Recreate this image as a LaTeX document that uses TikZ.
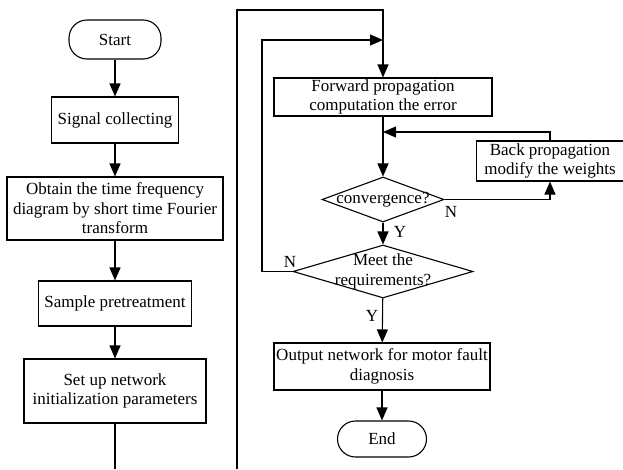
\documentclass[tikz,border=0pt]{standalone}
\usepackage{fontspec}
\setmainfont{Liberation Serif}
\usetikzlibrary{arrows.meta,shapes.geometric}

\tikzset{
  every node/.style={font=\fontsize{17}{19.5}\selectfont},
  procbox/.style={draw, rectangle, align=center, inner sep=0pt},
  termbox/.style={draw, rectangle, rounded corners=18pt, inner sep=0pt},
  decision/.style={draw, diamond, inner sep=0pt},
  flow/.style={-{Triangle[length=13pt,width=11pt]}}
}

\begin{document}
\begin{tikzpicture}[x=1pt, y=-1pt, line width=1.1pt]
    \useasboundingbox (0,0) rectangle (623,469);

    % Left column
    \node[termbox, minimum width=92, minimum height=39] (start) at (115,39.5) {Start};
    \node[procbox, minimum width=127, minimum height=46] (signal) at (115,120) {Signal collecting};
    \node[procbox, minimum width=216, minimum height=63] (obtain) at (115,208.5)
        {Obtain the time frequency\\diagram by short time Fourier\\transform};
    \node[procbox, minimum width=153, minimum height=45] (sample) at (115,303.5) {Sample pretreatment};
    \node[procbox, minimum width=182, minimum height=64] (setup) at (115,391)
        {Set up network\\initialization parameters};
    \coordinate (leftcut) at (115,469);

    \draw[flow] (start) -- (signal);
    \draw[flow] (signal) -- (obtain);
    \draw[flow] (obtain) -- (sample);
    \draw[flow] (sample) -- (setup);
    \draw (setup) -- (leftcut);

    % Right column
    \coordinate (rightcut) at (237,469);
    \coordinate (topbend) at (237,10);
    \node[procbox, minimum width=218, minimum height=38] (forward) at (383,97)
        {Forward propagation\\computation the error};
    \node[procbox, minimum width=147, minimum height=40] (back) at (550,161)
        {Back propagation\\modify the weights};
    \node[decision, minimum width=122, minimum height=45,
          label={center:convergence?}] (conv) at (383,199.5) {};
    \node[decision, minimum width=180, minimum height=53,
          label={[align=center]center:Meet the\\requirements?}] (meet) at (383,271.5) {};
    \node[procbox, minimum width=216, minimum height=47] (output) at (382,366.5)
        {Output network for motor fault\\diagnosis};
    \node[termbox, minimum width=89, minimum height=36] (end) at (382,439) {End};

    % Joins on the main line
    \coordinate (joinback) at (383,132);
    \coordinate (joinmeet) at (383,40);
    \coordinate (meetbend) at (262,271.5);

    \draw[flow] (rightcut) -- (topbend) -| (forward.north);
    \draw[flow] (forward) -- (conv);
    \draw[flow] (back.north) |- (joinback);
    \draw[flow] (conv.east) -| (back.south);
    \draw[flow] (conv) -- (meet);
    \draw[flow] (meet.west) -- (meetbend) |- (joinmeet);
    \draw[flow] (meet) -- (output);
    \draw[flow] (output) -- (end);

    % Branch labels
    \node (convno) at (451,212) {N};
    \node (convyes) at (400,232) {Y};
    \node (meetno) at (290,262) {N};
    \node (meetyes) at (372,316) {Y};
\end{tikzpicture}
\end{document}
